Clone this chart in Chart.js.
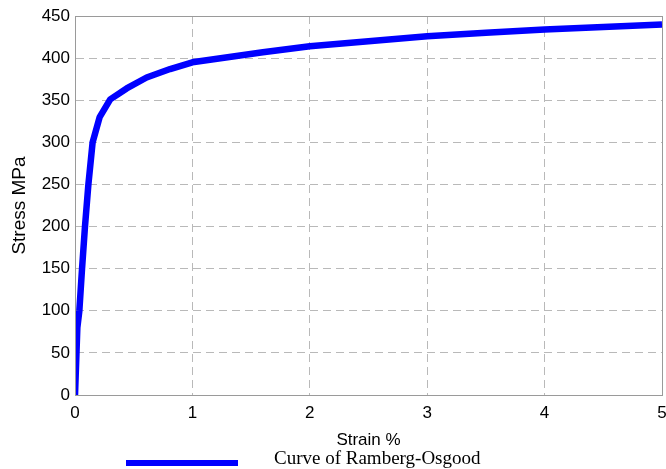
<!DOCTYPE html>
<html>
<head>
<meta charset="utf-8">
<script src="https://cdn.jsdelivr.net/npm/chart.js@4/dist/chart.umd.min.js"></script>
<style>
  html, body { margin: 0; padding: 0; background: #fff; }
  #wrap { position: relative; width: 666px; height: 469px; }
  #legend { position: absolute; left: 126px; top: 447px; height: 22px; display: flex; align-items: center; }
  #legend .swatch { width: 112px; height: 6px; margin-top: 10px; }
  #legend .label { margin-left: 36px; font-family: "Liberation Serif", "Times New Roman", serif; font-size: 19px; line-height: 22px; color: #000; }
</style>
</head>
<body>
<div id="wrap">
  <canvas id="chart" width="666" height="469"></canvas>
  <div id="legend"></div>
</div>
<script>
// Ramberg-Osgood stress-strain curve (strain in %, stress in MPa)
const strainPct = [0, 0.02, 0.037, 0.06, 0.085, 0.114, 0.15, 0.21, 0.3, 0.44, 0.61, 0.81, 1.0, 1.3, 1.6, 2.0, 2.5, 3.0, 3.5, 4.0, 4.5, 5.0];
const stressMPa = [0, 80, 100, 150, 200, 250, 300, 330, 351, 364, 377, 387, 395, 401, 407, 414, 420, 426, 430, 434, 437, 440];
const xTicks = [0, 1, 2, 3, 4, 5];
const yTicks = [0, 50, 100, 150, 200, 250, 300, 350, 400, 450];
const seriesLabel = 'Curve of Ramberg-Osgood';
const seriesColor = '#0000ff';

const points = strainPct.map((s, i) => ({ x: s, y: stressMPa[i] }));

// Outline the whole plot area like a boxed axis
const frame = {
  id: 'frame',
  afterDatasetsDraw(chart) {
    const { ctx, chartArea: a } = chart;
    ctx.save();
    ctx.strokeStyle = '#9a9a9a';
    ctx.lineWidth = 1;
    ctx.strokeRect(Math.round(a.left) + 0.5, Math.round(a.top) + 0.5,
                   Math.round(a.right - a.left), Math.round(a.bottom - a.top));
    ctx.restore();
  }
};

const tickFont = { family: '"Liberation Sans", Arial, sans-serif', size: 17 };
const gridOpts = { color: '#b9b9b9', lineWidth: 1, drawTicks: false };

const chart = new Chart(document.getElementById('chart'), {
  type: 'scatter',
  data: {
    datasets: [{
      label: seriesLabel,
      data: points,
      showLine: true,
      borderColor: seriesColor,
      backgroundColor: seriesColor,
      borderWidth: 6.5,
      pointRadius: 0,
      tension: 0,
      borderJoinStyle: 'round'
    }]
  },
  options: {
    responsive: false,
    animation: false,
    layout: { padding: { top: 16, right: 4, bottom: 0, left: 0 } },
    plugins: { legend: { display: false }, tooltip: { enabled: false } },
    scales: {
      x: {
        type: 'linear', min: 0, max: 5,
        afterBuildTicks: s => { s.ticks = xTicks.map(v => ({ value: v })); },
        afterFit: s => { s.height = 74; s.paddingLeft = 0; s.paddingRight = 0; },
        grid: gridOpts,
        border: { color: '#9a9a9a', dash: [8, 5] },
        ticks: { font: tickFont, color: '#000', padding: 8, maxRotation: 0 },
        title: { display: true, text: 'Strain %', font: { family: tickFont.family, size: 17 }, color: '#000', padding: { top: 0, bottom: 18 } }
      },
      y: {
        type: 'linear', min: 0, max: 450,
        afterBuildTicks: s => { s.ticks = yTicks.map(v => ({ value: v })); },
        afterFit: s => { s.width = 75; },
        grid: gridOpts,
        border: { color: '#9a9a9a', dash: [8, 5] },
        ticks: { font: tickFont, color: '#000', padding: 5 },
        title: { display: true, text: 'Stress MPa', font: { family: tickFont.family, size: 19 }, color: '#000', padding: { top: 8, bottom: 0 } }
      }
    }
  },
  plugins: [frame]
});

// Legend below the axes, built from the dataset
const legend = document.getElementById('legend');
chart.data.datasets.forEach(ds => {
  const sw = document.createElement('span');
  sw.className = 'swatch';
  sw.style.background = ds.borderColor;
  const tx = document.createElement('span');
  tx.className = 'label';
  tx.textContent = ds.label;
  legend.appendChild(sw);
  legend.appendChild(tx);
});
</script>
</body>
</html>
